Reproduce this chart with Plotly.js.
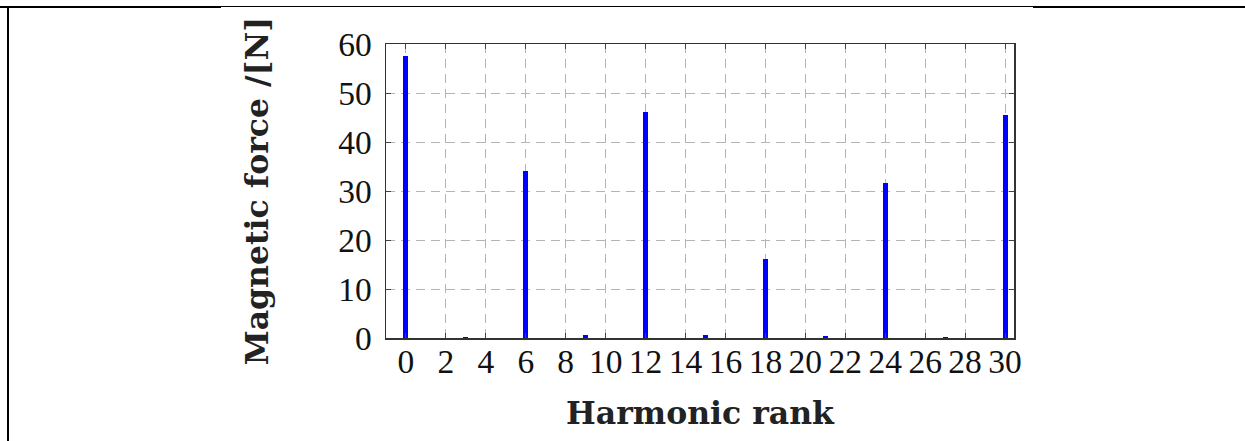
<!DOCTYPE html>
<html>
<head>
<meta charset="utf-8">
<script src="https://cdn.plot.ly/plotly-3.0.1.min.js"></script>
<style>
  html, body { margin: 0; padding: 0; background: #fff; }
  #wrap { position: relative; width: 1245px; height: 441px; overflow: hidden; }
  #chart { position: absolute; left: 0; top: 0; width: 1245px; height: 441px; }
  .bl { position: absolute; background: #000; z-index: 5; }
</style>
</head>
<body>
<div id="wrap">
  <div id="chart"></div>
  <div class="bl" style="left:0px; top:6px; width:221px; height:2px;"></div>
  <div class="bl" style="left:221px; top:6px; width:812px; height:1px;"></div>
  <div class="bl" style="left:1033px; top:6px; width:212px; height:2px;"></div>
  <div class="bl" style="left:7px; top:6px; width:2px; height:435px;"></div>
</div>
<script>
// Harmonic ranks and magnetic force amplitudes [N]
const harmonicRank = [0, 3, 6, 9, 12, 15, 18, 21, 24, 27, 30];
const magneticForce = [57.5, 0.3, 34.1, 0.6, 46.2, 0.6, 16.1, 0.4, 31.6, 0.3, 45.5];
const xTickVals = [0, 2, 4, 6, 8, 10, 12, 14, 16, 18, 20, 22, 24, 26, 28, 30];
const yTickVals = [0, 10, 20, 30, 40, 50, 60];
const xTitle = 'Harmonic rank';
const yTitle = 'Magnetic force /[N]';

const trace = {
  type: 'bar',
  x: harmonicRank,
  y: magneticForce,
  width: 0.25,
  marker: { color: '#0000ff', line: { width: 0 } },
  hoverinfo: 'x+y'
};

const tickFont = { family: 'Liberation Serif, serif', size: 33.5, color: '#111' };
const titleFont = { family: 'DejaVu Serif, serif', size: 31.5, color: '#222', weight: 'bold' };

const layout = {
  width: 1245,
  height: 441,
  margin: { l: 386, r: 231, t: 44, b: 103 },
  paper_bgcolor: '#ffffff',
  plot_bgcolor: '#ffffff',
  showlegend: false,
  bargap: 0,
  xaxis: {
    range: [-1, 30.45],
    tickmode: 'array',
    tickvals: xTickVals,
    ticktext: xTickVals.map(String),
    ticks: 'inside',
    ticklen: 5,
    tickwidth: 1,
    tickcolor: '#444',
    mirror: 'ticks',
    showline: true,
    linecolor: '#333',
    linewidth: 1.5,
    showgrid: true,
    gridcolor: '#b4b4b4',
    gridwidth: 1,
    griddash: '9px,6px',
    zeroline: false,
    tickfont: tickFont,
    ticklabelstandoff: -7,
    automargin: false,
    title: { text: xTitle, font: titleFont, standoff: 23 }
  },
  yaxis: {
    range: [0, 60],
    tickmode: 'array',
    tickvals: yTickVals,
    ticktext: yTickVals.map(String),
    ticks: 'inside',
    ticklen: 5,
    tickwidth: 1,
    tickcolor: '#444',
    mirror: 'ticks',
    showline: true,
    linecolor: '#333',
    linewidth: 1.5,
    showgrid: true,
    gridcolor: '#b4b4b4',
    gridwidth: 1,
    griddash: '9px,6px',
    zeroline: false,
    tickfont: tickFont,
    ticklabelstandoff: 6,
    automargin: false,
    title: { text: yTitle, font: titleFont, standoff: 60 }
  }
};

Plotly.newPlot('chart', [trace], layout, { displayModeBar: false, staticPlot: true });
</script>
</body>
</html>
